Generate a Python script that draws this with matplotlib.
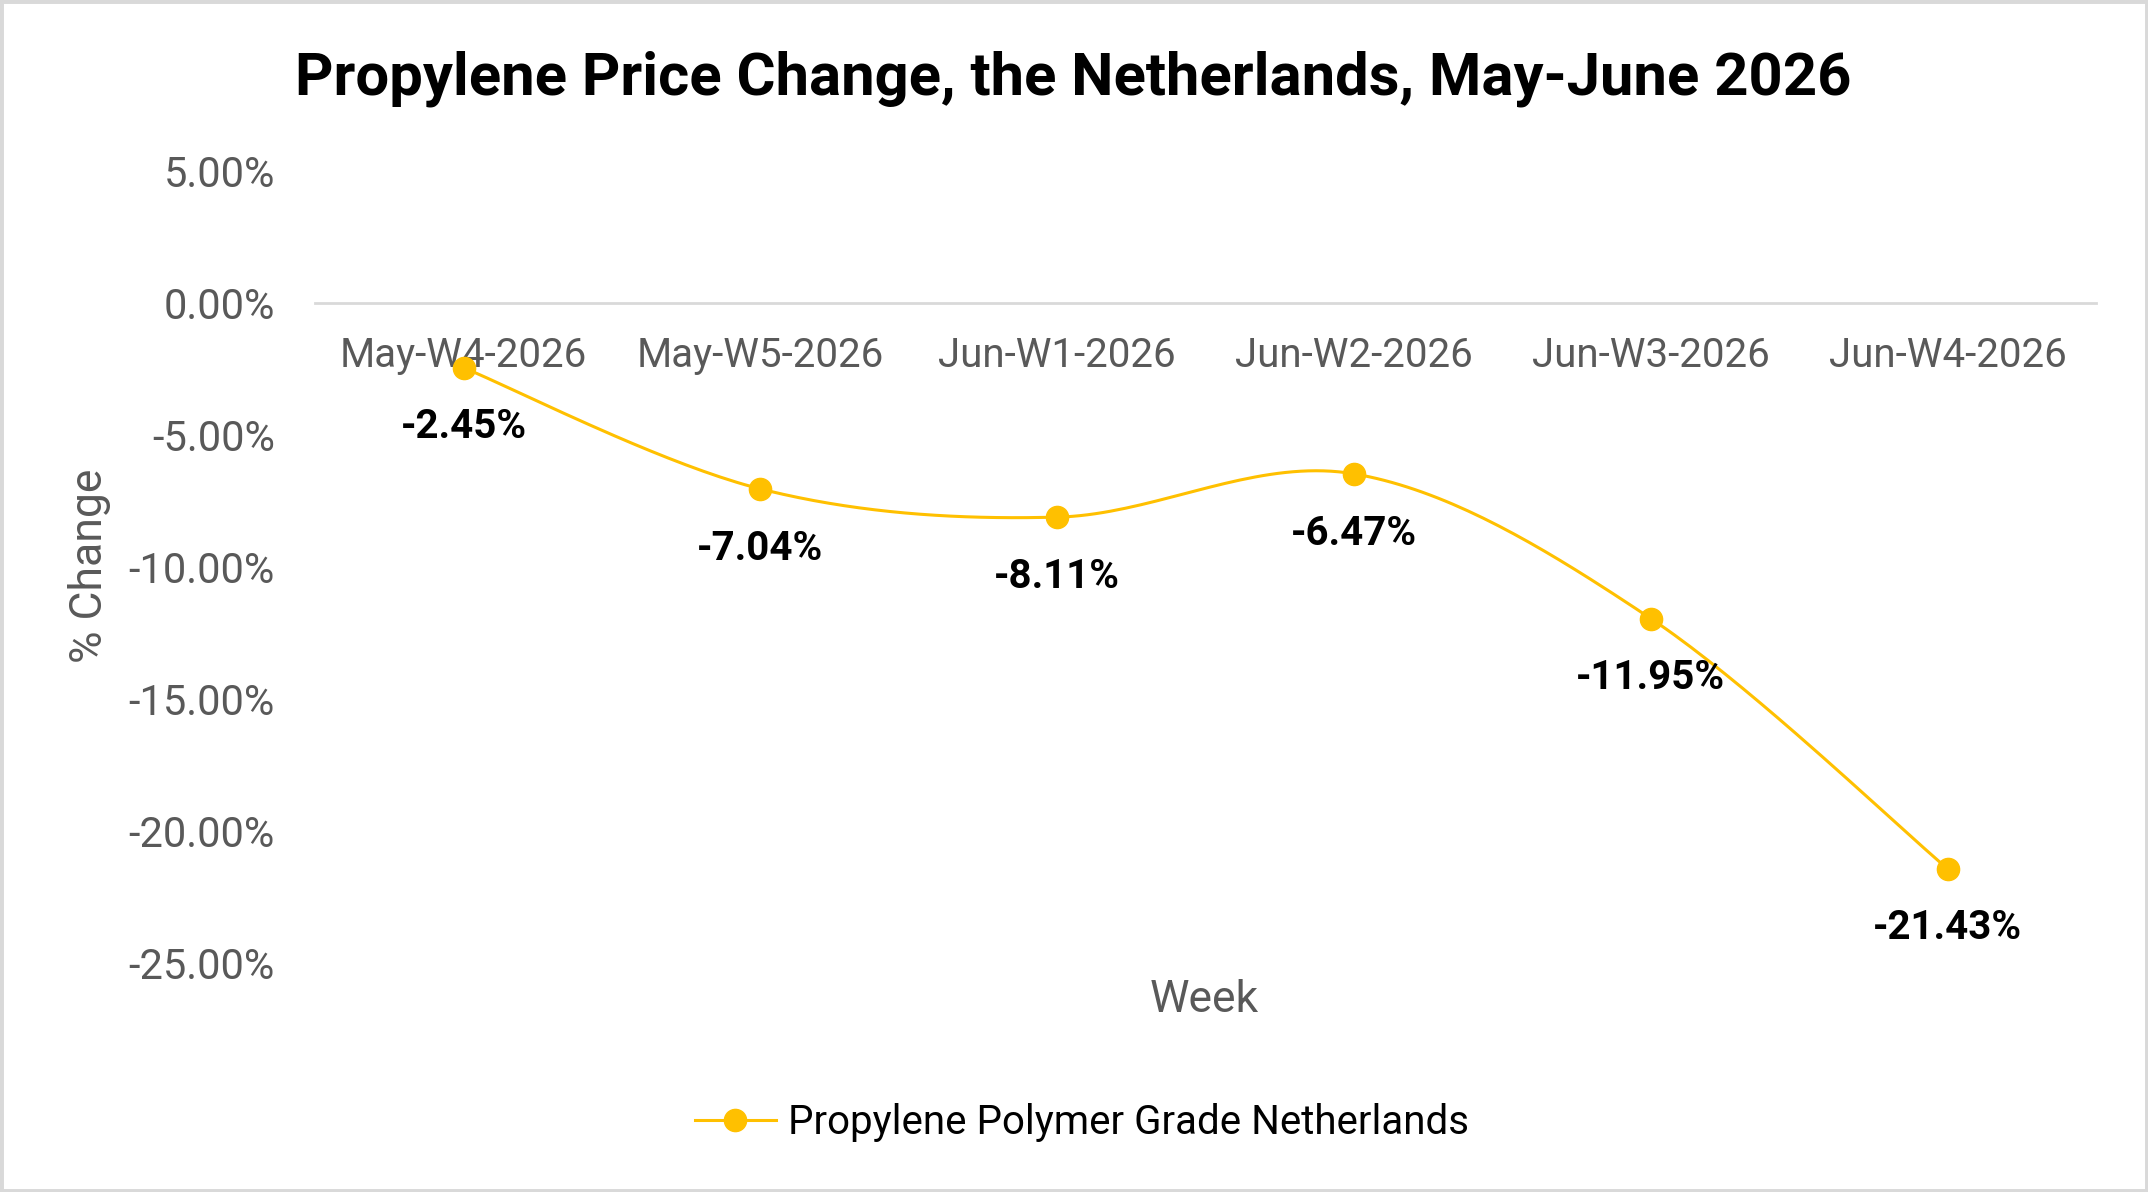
import numpy as np
import matplotlib
matplotlib.use("Agg")
import matplotlib.pyplot as plt
from matplotlib.patches import Rectangle

weeks = ["May-W4-2026", "May-W5-2026", "Jun-W1-2026", "Jun-W2-2026", "Jun-W3-2026", "Jun-W4-2026"]
changes = [-2.45, -7.04, -8.11, -6.47, -11.95, -21.43]
series_name = "Propylene Polymer Grade Netherlands"
yticks = [5, 0, -5, -10, -15, -20, -25]

gold = "#FFC000"
gray = "#595959"

plt.rcParams['font.family'] = ['Roboto', 'DejaVu Sans']


def smooth(xs, ys, n=40):
    # excel-like smoothing: cubic bezier with catmull-rom style control points
    xs = np.asarray(xs, float)
    ys = np.asarray(ys, float)
    px, py = [], []
    for i in range(len(xs) - 1):
        i0 = max(i - 1, 0)
        i3 = min(i + 2, len(xs) - 1)
        c1x = xs[i] + (xs[i + 1] - xs[i0]) / 6
        c1y = ys[i] + (ys[i + 1] - ys[i0]) / 6
        c2x = xs[i + 1] - (xs[i3] - xs[i]) / 6
        c2y = ys[i + 1] - (ys[i3] - ys[i]) / 6
        t = np.linspace(0, 1, n)
        bx = (1 - t) ** 3 * xs[i] + 3 * (1 - t) ** 2 * t * c1x + 3 * (1 - t) * t ** 2 * c2x + t ** 3 * xs[i + 1]
        by = (1 - t) ** 3 * ys[i] + 3 * (1 - t) ** 2 * t * c1y + 3 * (1 - t) * t ** 2 * c2y + t ** 3 * ys[i + 1]
        px.extend(bx)
        py.extend(by)
    return px, py


fig = plt.figure(figsize=(21.48, 11.92), dpi=100)
ax = fig.add_axes([0.1467, 0.1921, 0.8291, 0.6644])

x = np.arange(len(weeks))
sx, sy = smooth(x, changes)
ax.plot(sx, sy, color=gold, lw=2.2, zorder=3)
ax.plot(x, changes, 'o', color=gold, markersize=16, zorder=4)
# legend proxy
ax.plot([], [], '-o', color=gold, lw=2.2, markersize=16, label=series_name)

for xi, v in zip(x, changes):
    ax.annotate(f"{v:.2f}%", (xi, v), xytext=(0, -43), textcoords='offset points',
                ha='center', va='center', fontsize=29, fontweight='bold', color='black', zorder=5)

ax.set_xlim(-0.5, len(weeks) - 0.5)
ax.set_ylim(-25, 5)
ax.set_yticks(yticks)
ax.set_yticklabels([f"{t:.2f}%" for t in yticks])
ax.set_xticks(x)
ax.set_xticklabels(weeks)

for s in ['top', 'right', 'left']:
    ax.spines[s].set_visible(False)
ax.spines['bottom'].set_position(('data', 0))
ax.spines['bottom'].set_color('#D9D9D9')
ax.spines['bottom'].set_linewidth(2)
ax.tick_params(axis='x', length=0, pad=24, labelsize=29, labelcolor=gray)
ax.tick_params(axis='y', length=0, pad=29, labelsize=30, labelcolor=gray)

fig.text(0.0415, 0.525, "% Change", rotation=90, ha='center', va='center', fontsize=32, color=gray)
fig.text(0.5605, 0.161, "Week", ha='center', va='center', fontsize=32, color=gray)
fig.text(0.4995, 0.934, "Propylene Price Change, the Netherlands, May-June 2026",
         ha='center', va='center', fontsize=43, fontweight='bold', color='black')

fig.legend(loc='center', bbox_to_anchor=(0.5037, 0.058), frameon=False, fontsize=29,
           handlelength=2.0, handletextpad=0.3, labelcolor='black')

fig.patches.append(Rectangle((0, 0), 1, 1, transform=fig.transFigure, fill=False,
                             edgecolor='#D9D9D9', linewidth=5))

fig.savefig("out.png", dpi=100)
